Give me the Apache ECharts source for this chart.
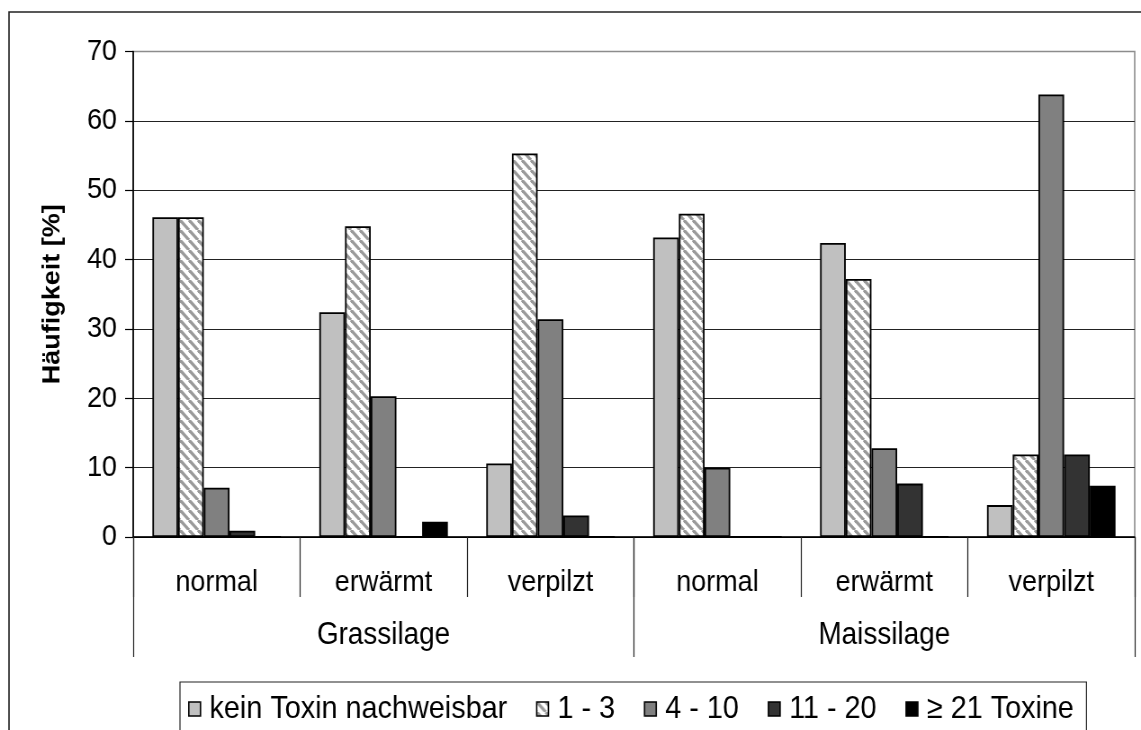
<!DOCTYPE html>
<html>
<head>
<meta charset="utf-8">
<script src="https://cdn.jsdelivr.net/npm/echarts@6/dist/echarts.min.js"></script>
<style>
  html, body { margin: 0; padding: 0; background: #fff; overflow: hidden; }
  /* chart is laid out 1268 px wide and shown condensed to 1141 px */
  #chart { width: 1268px; height: 730px; transform: scaleX(0.89984); transform-origin: 0 0; }
</style>
</head>
<body>
<div id="chart"></div>
<script>
// Silage condition per group, and the two silage groups
const subCategories = ['normal', 'erwärmt', 'verpilzt', 'normal', 'erwärmt', 'verpilzt'];
const groups = ['Grassilage', 'Maissilage'];

// Share of samples [%] by number of detected toxins
const seriesNames = ['kein Toxin nachweisbar', '1 - 3', '4 - 10', '11 - 20', '≥ 21 Toxine'];
const keinToxin    = [46.1, 32.4, 10.6, 43.2, 42.4, 4.6];
const toxine1bis3  = [46.1, 44.8, 55.3, 46.6, 37.2, 11.9];
const toxine4bis10 = [7.1, 20.3, 31.4, 10.0, 12.8, 63.8];
const toxine11bis20 = [0.9, 0, 3.1, 0, 7.7, 11.9];
const toxine21plus = [0, 2.2, 0, 0, 0, 7.4];

const FONT = '"Liberation Sans", Arial, sans-serif';

// Diagonal hatch fill for the "1 - 3" series
function hatchPattern() {
  const s = 10;
  const c = document.createElement('canvas');
  c.width = s; c.height = s;
  const g = c.getContext('2d');
  g.fillStyle = '#ffffff';
  g.fillRect(0, 0, s, s);
  g.strokeStyle = '#9a9a9a';
  g.lineWidth = 3.2;
  for (const k of [-s, 0, s]) {
    g.beginPath();
    g.moveTo(k, 0);
    g.lineTo(k + s, s);
    g.stroke();
  }
  return c;
}

const fills = ['#c0c0c0', { image: hatchPattern(), repeat: 'repeat' }, '#808080', '#333333', '#000000'];
const values = [keinToxin, toxine1bis3, toxine4bis10, toxine11bis20, toxine21plus];

const chart = echarts.init(document.getElementById('chart'), null, { renderer: 'canvas' });

chart.setOption({
  animation: false,
  backgroundColor: '#ffffff',
  textStyle: { fontFamily: FONT },
  graphic: [{
    type: 'rect',
    shape: { x: 10, y: 12, width: 1400, height: 900 },
    style: { fill: 'none', stroke: '#222', lineWidth: 1.6 },
    silent: true,
    z: -10
  }],
  grid: {
    left: 148, right: 7, top: 51.5, bottom: 193,
    show: true, borderColor: '#8c8c8c', borderWidth: 1.6, backgroundColor: 'transparent'
  },
  legend: {
    data: seriesNames,
    left: 200, top: 682,
    padding: [11, 14, 40, 9],
    borderColor: '#222', borderWidth: 1.2,
    itemWidth: 13, itemHeight: 14, itemGap: 32,
    icon: 'rect',
    itemStyle: { borderColor: '#000', borderWidth: 1.6 },
    textStyle: { fontFamily: FONT, fontSize: 32, color: '#000', padding: [0, 0, 0, 5] }
  },
  xAxis: [{
    type: 'category',
    data: subCategories,
    position: 'bottom',
    axisLine: { show: true, lineStyle: { color: '#000', width: 1.5 } },
    axisTick: { show: true, interval: 0, length: 60, lineStyle: { color: '#222', width: 1.2 } },
    axisLabel: { interval: 0, margin: 31, fontSize: 30, color: '#000', fontFamily: FONT }
  }, {
    type: 'category',
    data: groups,
    position: 'bottom',
    axisLine: { show: false },
    axisTick: { show: true, interval: 0, length: 120, lineStyle: { color: '#222', width: 1.2 } },
    axisLabel: { interval: 0, margin: 83, fontSize: 31, color: '#000', fontFamily: FONT }
  }],
  yAxis: {
    type: 'value',
    min: 0, max: 70, interval: 10,
    name: 'Häufigkeit [%]',
    nameLocation: 'middle',
    nameGap: 76,
    nameTextStyle: { fontSize: 27, fontWeight: 'bold', color: '#000', fontFamily: FONT },
    axisLine: { show: true, lineStyle: { color: '#000', width: 1.7 } },
    axisTick: { show: true, length: 9, lineStyle: { color: '#000', width: 1.2 } },
    axisLabel: { margin: 18, fontSize: 30, color: '#000', fontFamily: FONT },
    splitLine: {
      show: true,
      lineStyle: { width: 1.2, color: ['#000', '#222', '#222', '#222', '#222', '#222', '#222', '#8c8c8c'] }
    }
  },
  series: seriesNames.map((name, i) => ({
    name,
    type: 'bar',
    xAxisIndex: 0,
    data: values[i],
    barGap: '0%',
    barCategoryGap: '23%',
    itemStyle: { color: fills[i], borderColor: '#000', borderWidth: 1.8 },
    emphasis: { disabled: true }
  }))
});
</script>
</body>
</html>
